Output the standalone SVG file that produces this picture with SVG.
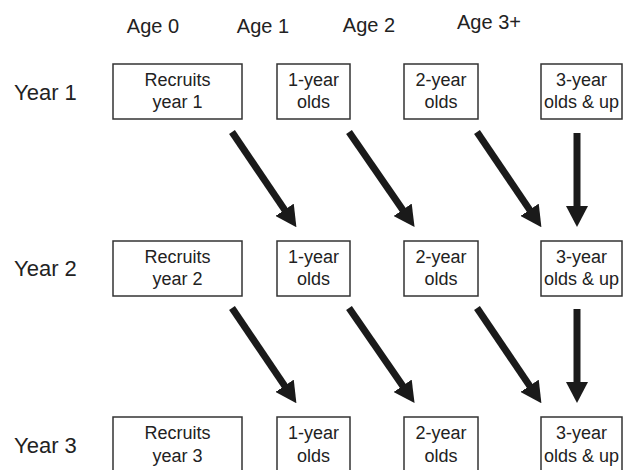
<svg xmlns="http://www.w3.org/2000/svg" width="625" height="470" viewBox="0 0 625 470">
<style>
.box{fill:#fff;stroke:#333;stroke-width:1.5}
.t{font-family:"Liberation Sans",Arial,sans-serif;font-size:18px;fill:#222;text-anchor:middle}
.h{font-family:"Liberation Sans",Arial,sans-serif;font-size:20px;fill:#222;text-anchor:middle}
.y{font-family:"Liberation Sans",Arial,sans-serif;font-size:22px;fill:#222}
.a{stroke:#1a1a1a;stroke-width:7;fill:none;marker-end:url(#head)}
</style>
<defs>
<marker id="head" viewBox="0 0 21 22" refX="1" refY="11" markerWidth="21" markerHeight="22" markerUnits="userSpaceOnUse" orient="auto">
<path d="M0,0 L21,11 L0,22 z" fill="#1a1a1a"/>
</marker>
</defs>
<g id="headers">
<text class="h" x="153" y="33">Age 0</text>
<text class="h" x="263" y="33">Age 1</text>
<text class="h" x="369" y="32">Age 2</text>
<text class="h" x="489" y="29">Age 3+</text>
<text class="y" x="14" y="100">Year 1</text>
<text class="y" x="14" y="276">Year 2</text>
<text class="y" x="14" y="453">Year 3</text>
</g>
<g id="r1y1"><rect class="box" x="113" y="64" width="129" height="55"/><text class="t" x="177.5" y="86">Recruits</text><text class="t" x="177.5" y="108">year 1</text></g>
<g id="a1y1"><rect class="box" x="277" y="64" width="73" height="55"/><text class="t" x="313.5" y="86">1-year</text><text class="t" x="313.5" y="108">olds</text></g>
<g id="a2y1"><rect class="box" x="404" y="64" width="74" height="55"/><text class="t" x="441" y="86">2-year</text><text class="t" x="441" y="108">olds</text></g>
<g id="a3y1"><rect class="box" x="541" y="64" width="81" height="55"/><text class="t" x="581.5" y="86">3-year</text><text class="t" x="581.5" y="108">olds &amp; up</text></g>
<g id="r1y2"><rect class="box" x="113" y="241" width="129" height="55"/><text class="t" x="177.5" y="263">Recruits</text><text class="t" x="177.5" y="285">year 2</text></g>
<g id="a1y2"><rect class="box" x="277" y="241" width="73" height="55"/><text class="t" x="313.5" y="263">1-year</text><text class="t" x="313.5" y="285">olds</text></g>
<g id="a2y2"><rect class="box" x="404" y="241" width="74" height="55"/><text class="t" x="441" y="263">2-year</text><text class="t" x="441" y="285">olds</text></g>
<g id="a3y2"><rect class="box" x="541" y="241" width="81" height="55"/><text class="t" x="581.5" y="263">3-year</text><text class="t" x="581.5" y="285">olds &amp; up</text></g>
<g id="r1y3"><rect class="box" x="113" y="417" width="129" height="60"/><text class="t" x="177.5" y="439">Recruits</text><text class="t" x="177.5" y="462">year 3</text></g>
<g id="a1y3"><rect class="box" x="277" y="417" width="73" height="60"/><text class="t" x="313.5" y="439">1-year</text><text class="t" x="313.5" y="462">olds</text></g>
<g id="a2y3"><rect class="box" x="404" y="417" width="74" height="60"/><text class="t" x="441" y="439">2-year</text><text class="t" x="441" y="462">olds</text></g>
<g id="a3y3"><rect class="box" x="541" y="417" width="81" height="60"/><text class="t" x="581.5" y="439">3-year</text><text class="t" x="581.5" y="462">olds &amp; up</text></g>
<g id="connectors">
<line class="a" x1="232" y1="132" x2="285.2" y2="210.6"/>
<line class="a" x1="349" y1="132" x2="403.2" y2="210.6"/>
<line class="a" x1="477" y1="132" x2="530.2" y2="210.6"/>
<line class="a" x1="577" y1="133" x2="577" y2="207"/>
<line class="a" x1="232" y1="308" x2="285.2" y2="386.6"/>
<line class="a" x1="349" y1="308" x2="403.2" y2="386.6"/>
<line class="a" x1="477" y1="308" x2="530.2" y2="386.6"/>
<line class="a" x1="577" y1="309" x2="577" y2="383"/>
</g>
</svg>
